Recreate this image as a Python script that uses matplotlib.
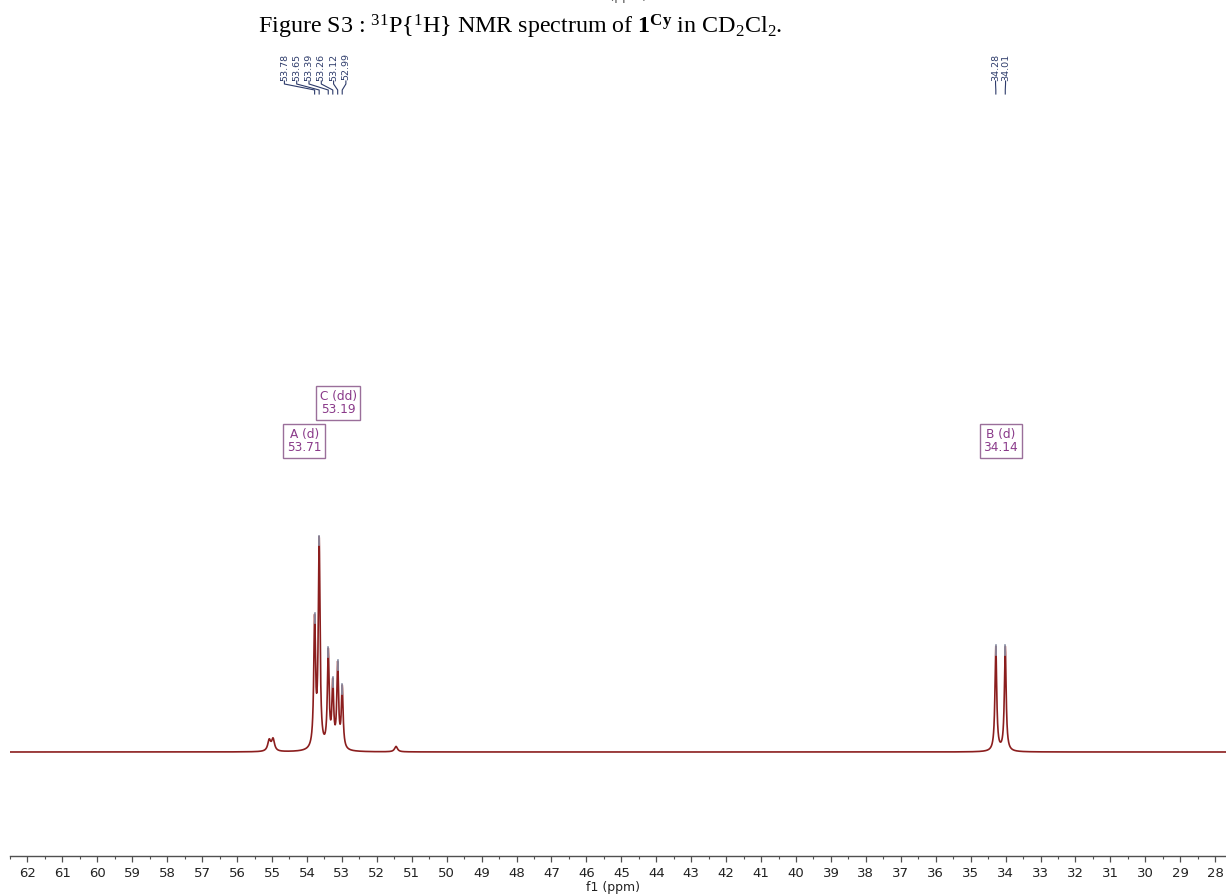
import numpy as np
import matplotlib
matplotlib.use("Agg")
import matplotlib.pyplot as plt
from matplotlib.transforms import blended_transform_factory
from matplotlib.lines import Line2D

# ---------------- data ----------------
peak_ppm_A = [53.78, 53.65, 53.39, 53.26, 53.12, 52.99]
peak_int_A = [58, 95, 44, 29, 38, 28]
peak_ppm_B = [34.28, 34.01]
peak_int_B = [48, 48]
minor_ppm = [55.08, 54.97, 51.45]
minor_int = [5.0, 5.5, 2.5]
multiplet_names = ["C (dd)", "A (d)", "B (d)"]
multiplet_ppm = [53.19, 53.71, 34.14]
tick_values = list(range(62, 27, -1))

plt.rcParams['mathtext.fontset'] = 'custom'
plt.rcParams['mathtext.rm'] = 'Liberation Serif'
plt.rcParams['mathtext.it'] = 'Liberation Serif:italic'
plt.rcParams['mathtext.bf'] = 'Liberation Serif:bold'

W, H = 1226, 896
fig = plt.figure(figsize=(W / 100, H / 100), dpi=100)

# axis geometry (pixels)
ax_left, ax_right = 10, 1226
ax_bottom_px, ax_top_px = 856, 95
ax = fig.add_axes([ax_left / W, (H - ax_bottom_px) / H,
                   (ax_right - ax_left) / W, (ax_bottom_px - ax_top_px) / H])

# ppm mapping: 53.65 ppm at 319 px, 34.94 px/ppm
pxppm = 34.94
def px2ppm(xp):
    return 53.65 + (319 - xp) / pxppm
ax.set_xlim(px2ppm(ax_left), px2ppm(ax_right))
# intensity: 2.18 px per unit, baseline at y=752 px
pxint = 2.18
base_px = 752
ax.set_ylim(-(ax_bottom_px - base_px) / pxint, (base_px - ax_top_px) / pxint)

# ---------------- spectrum ----------------
x = np.linspace(px2ppm(ax_left), px2ppm(ax_right), 12000)
y = np.zeros_like(x)
g = 0.03
for p, a in zip(peak_ppm_A + peak_ppm_B, peak_int_A + peak_int_B):
    y += a * g ** 2 / ((x - p) ** 2 + g ** 2)
gm = 0.05
for p, a in zip(minor_ppm, minor_int):
    y += a * gm ** 2 / ((x - p) ** 2 + gm ** 2)
line_color = '#8b1e1e'
ax.plot(x, y, color=line_color, lw=1.2, solid_joinstyle='round')

# peak-pick markers at the tops
all_ppm = peak_ppm_A + peak_ppm_B
tops = np.interp(all_ppm, x[::-1], y[::-1])
for p, t in zip(all_ppm, tops):
    ax.plot([p, p], [t - 4, t + 0.5], color='#8c94aa', lw=1.2)

# ---------------- axis styling ----------------
for s in ['top', 'left', 'right']:
    ax.spines[s].set_visible(False)
ax.spines['bottom'].set_color('#505050')
ax.spines['bottom'].set_linewidth(1.0)
ax.set_yticks([])
ax.set_xticks(tick_values)
ax.set_xticklabels([str(v) for v in tick_values])
ax.set_xticks(np.arange(62.5, 27.9, -1.0), minor=True)
ax.tick_params(axis='x', which='major', direction='out', length=4.5, width=0.9,
               color='#505050', labelsize=9.5, labelcolor='#222222', pad=3.5)
ax.tick_params(axis='x', which='minor', direction='out', length=2.5, width=0.8,
               color='#505050')
fig.text(613 / W, 1 - 887.5 / H, 'f1 (ppm)', ha='center', va='center',
         fontsize=9.0, color='#222222')

# ---------------- title and clipped header ----------------
fig.text(0.506, 1.004, 'f1 (ppm)', ha='center', va='center', fontsize=9,
         color='#555555')
title = (r"Figure S3 : $^{31}$P{$^{1}$H} NMR spectrum of "
         r"$\mathbf{1}^{\mathbf{Cy}}$ in CD$_{2}$Cl$_{2}$.")
fig.text(520 / W, 1 - 27 / H, title, ha='center', va='center', fontsize=17.3,
         family='Liberation Serif', color='black')

# ---------------- peak labels on top ----------------
bt = blended_transform_factory(ax.transData, fig.transFigure)
lab_color = '#2c3a6a'
def fy(px):
    return 1 - px / H

def peak_labels(ppms, centre_shift_ppm, spacing_px):
    n = len(ppms)
    centre = np.mean(ppms) + centre_shift_ppm
    sp = spacing_px / pxppm
    for i, p in enumerate(ppms):
        lx = centre - (i - (n - 1) / 2) * sp
        fig.text(lx, fy(67), f"{p:.2f}", transform=bt, rotation=90,
                 ha='center', va='center', fontsize=6.8, color=lab_color)
        fig.add_artist(Line2D([lx, lx, p, p], [fy(81), fy(84), fy(90), fy(94)],
                              transform=bt, color=lab_color, lw=0.8))

peak_labels(peak_ppm_A, 0.40, 12.3)
peak_labels(peak_ppm_B, 0.0, 10.0)

# ---------------- multiplet boxes ----------------
box_px = {"C (dd)": (338, 403), "A (d)": (304, 441), "B (d)": (None, 441)}
for name, ppm in zip(multiplet_names, multiplet_ppm):
    xp, ypx = box_px[name]
    xpos = ppm if xp is None else px2ppm(xp)
    fig.text(xpos, fy(ypx), f"{name}\n{ppm:.2f}", transform=bt,
             ha='center', va='center', fontsize=8.7, color='#8a3a8a',
             linespacing=1.05,
             bbox=dict(boxstyle='square,pad=0.3', fc='white', ec='#9a6f9a', lw=1.0))

fig.savefig('out.png', dpi=100)
